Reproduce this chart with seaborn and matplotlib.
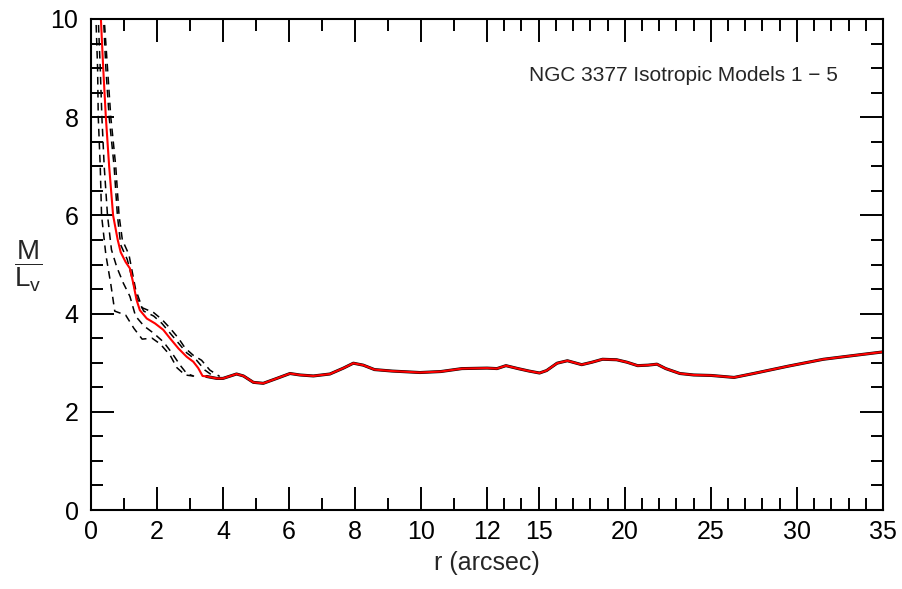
import numpy as np
import pandas as pd
import matplotlib
matplotlib.use("Agg")
import matplotlib.pyplot as plt
import seaborn as sns

# ---- data ----
red_r = [0.27, 0.30, 0.37, 0.45, 0.55, 0.67, 0.81, 0.90, 1.05, 1.18, 1.28, 1.38, 1.48, 1.69,
         1.94, 2.19, 2.39, 2.65, 2.90, 3.10, 3.25, 3.38, 3.50]
red_v = [10.6, 10.0, 9.0, 8.0, 7.0, 6.0, 5.5, 5.25, 5.05, 4.92, 4.62, 4.28, 4.07, 3.90,
         3.80, 3.67, 3.50, 3.29, 3.12, 3.02, 2.89, 2.73, 2.72]

dashA_r = [0.13, 0.15, 0.20, 0.22, 0.28, 0.32, 0.45, 0.60, 0.72, 1.05, 1.30, 1.55, 1.85,
           2.10, 2.40, 2.60, 2.85, 3.20]
dashA_v = [10.6, 10.0, 9.0, 8.0, 7.0, 6.0, 5.2, 4.6, 4.05, 3.97, 3.70, 3.48, 3.50,
           3.38, 3.15, 2.90, 2.75, 2.72]
dashB_r = [0.20, 0.22, 0.28, 0.33, 0.40, 0.50, 0.62, 0.78, 0.98, 1.18, 1.35, 1.60, 1.90,
           2.20, 2.45, 2.70, 2.90, 3.10]
dashB_v = [10.6, 10.0, 9.0, 8.0, 7.0, 6.0, 5.3, 4.95, 4.62, 4.35, 3.95, 3.75, 3.60,
           3.42, 3.20, 2.95, 2.78, 2.73]
dashC_r = [0.35, 0.38, 0.45, 0.55, 0.70, 0.80, 0.90, 1.10, 1.25, 1.40, 1.60, 1.90, 2.15,
           2.40, 2.65, 2.90, 3.20, 3.45, 3.70]
dashC_v = [10.6, 10.0, 9.0, 8.0, 7.0, 6.0, 5.4, 5.1, 4.7, 4.3, 4.05, 3.95, 3.80,
           3.60, 3.40, 3.20, 3.05, 2.85, 2.73]
dashD_r = [0.37, 0.40, 0.50, 0.60, 0.75, 0.85, 0.95, 1.15, 1.25, 1.35, 1.55, 1.90, 2.15,
           2.40, 2.65, 2.85, 3.10, 3.35, 3.60, 3.90]
dashD_v = [10.6, 10.0, 9.0, 8.0, 7.0, 6.0, 5.5, 5.2, 4.85, 4.5, 4.12, 4.02, 3.88,
           3.70, 3.50, 3.30, 3.15, 3.05, 2.85, 2.72]

tail_r = [3.5, 3.81, 4.0, 4.41, 4.62, 4.92, 5.22, 5.63, 6.03, 6.33, 6.74, 7.24, 7.65, 7.95,
          8.25, 8.59, 9.12, 9.97, 10.6, 11.24, 12.0, 12.58, 13.1, 13.8, 14.44, 15.05, 15.46,
          16.07, 16.67, 17.5, 18.1, 18.71, 19.53, 20.13, 20.75, 21.35, 21.87, 22.38, 23.2,
          24.0, 25.03, 26.35, 27.48, 29.5, 31.54, 33.6, 35.0]
tail_v = [2.72, 2.68, 2.68, 2.77, 2.73, 2.60, 2.58, 2.68, 2.78, 2.75, 2.73, 2.77, 2.89, 2.99,
          2.95, 2.86, 2.83, 2.80, 2.82, 2.88, 2.89, 2.88, 2.94, 2.88, 2.83, 2.79, 2.84,
          2.99, 3.04, 2.96, 3.01, 3.07, 3.06, 3.01, 2.94, 2.95, 2.97, 2.88, 2.78,
          2.75, 2.74, 2.70, 2.78, 2.93, 3.07, 3.16, 3.22]

x_major = [0, 2, 4, 6, 8, 10, 12, 15, 20, 25, 30, 35]
y_major = [0, 2, 4, 6, 8, 10]
title_text = "NGC 3377 Isotropic Models 1 \u2212 5"
x_label = "r (arcsec)"

# ---- style ----
sns.set_style("ticks")
plt.rcParams["font.family"] = ["Liberation Sans", "DejaVu Sans"]
plt.rcParams["mathtext.fontset"] = "custom"
plt.rcParams["mathtext.rm"] = "Liberation Sans"

fig = plt.figure(figsize=(9.02, 5.89), dpi=100)
ax = fig.add_axes([91 / 902, 79 / 589, 792 / 902, 491 / 589])

dash_sets = [(dashA_r, dashA_v), (dashB_r, dashB_v), (dashC_r, dashC_v), (dashD_r, dashD_v)]
for rr, vv in dash_sets:
    d = pd.DataFrame({"r": rr, "v": vv})
    sns.lineplot(data=d, x="r", y="v", ax=ax, sort=False, estimator=None,
                 color="black", lw=1.1, dashes=False, linestyle=(0, (5, 3.5)))

tail = pd.DataFrame({"r": tail_r, "v": tail_v})
sns.lineplot(data=tail, x="r", y="v", ax=ax, sort=False, estimator=None,
             color="black", lw=2.2)
red = pd.DataFrame({"r": red_r + tail_r, "v": red_v + tail_v})
sns.lineplot(data=red, x="r", y="v", ax=ax, sort=False, estimator=None,
             color="#ff0000", lw=1.5)


def fwd(x):
    x = np.asarray(x, dtype=float)
    return np.where(x <= 12, x, 12 + (x - 12) * 12.0 / 23.0)


def inv(y):
    y = np.asarray(y, dtype=float)
    return np.where(y <= 12, y, 12 + (y - 12) * 23.0 / 12.0)


ax.set_xscale("function", functions=(fwd, inv))
ax.set_xlim(0, 35)
ax.set_ylim(0, 10)

ax.set_xticks(x_major)
ax.set_xticklabels([str(t) for t in x_major])
ax.set_xticks(np.arange(0, 36, 1), minor=True)
ax.set_yticks(y_major)
ax.set_yticklabels([str(t) for t in y_major])
ax.set_yticks(np.arange(0, 10.01, 0.5), minor=True)

ax.tick_params(which="both", direction="in", top=True, right=True, width=1.4,
               colors="black", labelsize=18)
ax.tick_params(which="major", length=16.5, pad=7)
ax.tick_params(which="minor", length=8.5)
ax.tick_params(axis="y", which="major", pad=9)
for s in ax.spines.values():
    s.set_linewidth(1.5)
    s.set_color("black")

ax.set_xlabel(x_label, fontsize=18, labelpad=5)
ax.set_ylabel("")
fig.text(28 / 902, 1 - 266 / 589, r"$\dfrac{\mathrm{M}}{\mathrm{L_v}}$", fontsize=20,
         ha="center", va="center")
ax.text(0.943, 0.885, title_text, transform=ax.transAxes, ha="right", va="center",
        fontsize=15)

fig.savefig("out.png", dpi=100)
